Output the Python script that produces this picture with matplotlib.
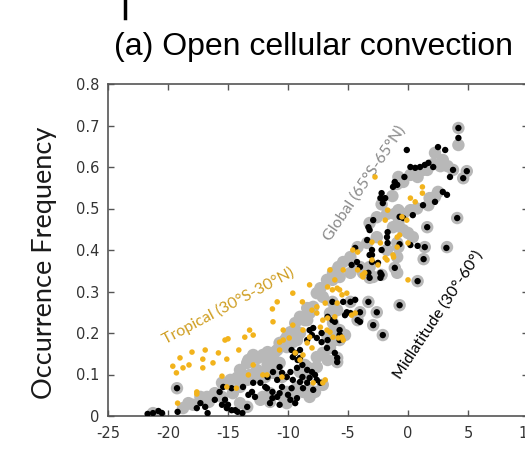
import numpy as np
import matplotlib.pyplot as plt
from matplotlib.lines import Line2D

# tropical (30S-30N) points
trop_x = [-8.2, -9.6, -10.9, -8.8, -11.3, -11.25, -13.6, -13.2, -12.9, -15.0, -15.25, -14.1,
          -10.4, -9.9, -10.7, -8.75, -10.7, -16.9, -18.0, -15.8, -19.0, -17.1, -15.1, -18.25,
          -16.25, -19.6, -18.75, -17.1, -19.3, -12.9, -12.1, -15.5, -13.3, -8.0, -8.75, -15.1,
          -17.6, -17.6, -19.2, -7.9, -14.3, -8.0, -7.6, -9.6, -10.4, -8.2, -7.3, -7.1, -6.75,
          -6.5, -6.25, -9.4, -9.0, -10.5, -6.9, -11.75, -6.1, -5.9, -5.9, -6.7, -6.3, -6.9,
          -7.6, -5.7, -6.1, -5.5, -5.1, -4.7, -4.4, -5.8, -5.5, -5.4, -3.75, -3.8, 0.0, -3.0,
          -2.5, -1.75, -1.25, -0.9, 0.0, -4.2, -2.75, 1.2, 1.2, 0.2, 0.6, -1.7, -0.5, -0.1,
          -1.9, -3.0, -0.9, -0.7, -1.2, -1.9, -2.3, -6.5, -5.4, -4.6, -4.2, -3.6, -8.4, -6.7,
          -7.1]
trop_y = [0.316, 0.296, 0.275, 0.275, 0.258, 0.227, 0.19, 0.207, 0.195, 0.186, 0.183, 0.159,
          0.207, 0.188, 0.178, 0.207, 0.159, 0.159, 0.154, 0.152, 0.14, 0.137, 0.137, 0.123,
          0.128, 0.12, 0.116, 0.116, 0.104, 0.123, 0.099, 0.096, 0.099, 0.164, 0.147, 0.07,
          0.058, 0.053, 0.031, 0.08, 0.067, 0.255, 0.248, 0.219, 0.183, 0.19, 0.214, 0.231, 0.207,
          0.202, 0.19, 0.152, 0.135, 0.094, 0.087, 0.099, 0.239, 0.272, 0.308, 0.311, 0.304, 0.272,
          0.263, 0.304, 0.328, 0.292, 0.296, 0.243, 0.248, 0.188, 0.19, 0.183, 0.335, 0.34, 0.328, 0.376,
          0.364, 0.376, 0.388, 0.407, 0.417, 0.352, 0.576, 0.552, 0.537, 0.525, 0.516, 0.496, 0.48, 0.472,
          0.472, 0.419, 0.431, 0.436, 0.383, 0.381, 0.417, 0.352, 0.352, 0.4, 0.395, 0.345, 0.176, 0.236,
          0.08]

# midlatitude (30-60) points
mid_x = [-21.7, -21.25, -20.8, -20.5, -19.25, -19.2, -17.6, -17.3, -16.9, -16.7, -16.1, -15.25,
         -15.0, -15.5, -15.1, -14.7, -14.4, -14.2, -13.8, -15.4, -15.7, -14.7, -13.75, -13.3,
         -13.0, -12.75, -12.9, -12.3, -11.9, -11.5, -11.3, -10.9, -10.7, -10.5, -10.7, -11.25,
         -10.5, -10.1, -9.8, -9.7, -9.4, -9.0, -9.6, -8.4, -8.2, -7.9, -9.6, -9.0, -8.75, -8.4,
         -7.9, -8.8, -11.7, -9.7, -13.4, -10.7, -10.0, -9.8, -9.4, -9.25, -7.6, -7.3, -8.2, -8.4,
         -8.0, -7.75, -9.25, -8.8, -9.2, -9.0, -10.9, -11.75, -11.3, -6.3, -6.7, -6.3, -7.2, -7.6,
         -7.2, -6.7, -8.0, -6.75, -5.9, -6.1, -5.9, -5.7, -5.7, -5.7, -6.1, -5.25, -5.1, -4.8,
         -5.4, -4.8, -4.2, -4.0, -4.4, -4.0, -3.3, -2.6, -2.9, -2.1, -3.2, -2.3, -2.2, -0.7, 0.8,
         -1.1, -4.0, -4.7, -4.25, -3.3, -2.3, -3.2, -4.4, -3.0, -2.5, 1.4, 3.2, 1.3, 0.8, 0.2,
         -0.7, -1.7, -2.2, -3.0, -3.0, 4.2, 4.2, -0.1, 2.5, 3.1, 0.2, 0.6, 1.0, 1.4, 1.7, 2.1,
         3.75, 4.9, 4.6, 3.5, -0.3, -1.1, -0.9, -1.25, -2.2, -2.3, -1.9, -2.1, 2.9, 3.25, 2.25,
         1.25, 0.4, -0.7, -0.4, -3.3, -3.2, -2.9, -1.7, -1.75, 4.1, 1.6, -3.4]
mid_y = [0.005, 0.007, 0.012, 0.007, 0.067, 0.01, 0.019, 0.031, 0.022, 0.007, 0.039, 0.039,
         0.027, 0.027, 0.019, 0.014, 0.014, 0.01, 0.007, 0.07, 0.058, 0.067, 0.07, 0.051,
         0.058, 0.046, 0.08, 0.08, 0.07, 0.031, 0.043, 0.046, 0.055, 0.07, 0.118, 0.106,
         0.104, 0.094, 0.106, 0.159, 0.152, 0.14, 0.142, 0.183, 0.207, 0.212, 0.087, 0.082, 0.067, 0.08,
         0.063, 0.094, 0.094, 0.067, 0.022, 0.027, 0.051, 0.039, 0.031, 0.043, 0.087, 0.08, 0.092, 0.111,
         0.106, 0.099, 0.116, 0.123, 0.135, 0.159, 0.087, 0.067, 0.058, 0.275, 0.239, 0.231, 0.2, 0.188,
         0.178, 0.183, 0.195, 0.164, 0.14, 0.152, 0.13, 0.207, 0.195, 0.183, 0.227, 0.243, 0.25, 0.275,
         0.275, 0.248, 0.231, 0.227, 0.28, 0.25, 0.275, 0.25, 0.219, 0.195, 0.333, 0.333, 0.34, 0.267, 0.325,
         0.357, 0.359, 0.364, 0.371, 0.345, 0.345, 0.388, 0.405, 0.371, 0.369, 0.407, 0.405, 0.378, 0.41, 0.412,
         0.414, 0.417, 0.4, 0.4, 0.388, 0.694, 0.67, 0.641, 0.648, 0.641, 0.6, 0.598, 0.6, 0.605, 0.61, 0.6,
         0.593, 0.59, 0.573, 0.576, 0.576, 0.564, 0.557, 0.552, 0.537, 0.525, 0.525, 0.513, 0.54, 0.533, 0.516,
         0.508, 0.484, 0.48, 0.477, 0.455, 0.448, 0.472, 0.443, 0.431, 0.477, 0.455, 0.424]

# global (65S-65N) points
glob_x = [-21.25, -20.7, -19.25, -18.3, -17.9, -18.75, -17.3, -16.75, -16.1, -16.6, -17.2, -15.5,
          -14.8, -14.25, -15.5, -14.0, -13.4, -12.6, -11.9, -13.3, -12.9, -12.6, -11.7, -11.25,
          -10.9, -10.25, -10.1, -11.25, -10.5, -9.25, -9.0, -8.4, -7.9, -7.6, -9.0, -8.4, -7.6,
          -9.6, -8.75, -8.2, -12.1, -11.5, -14.0, -13.4, -10.4, -10.1, -14.6, -7.3, -7.1, -8.4,
          -8.2, -8.6, -9.0, -9.4, -9.8, -10.7, -11.1, -11.7, -12.1, -12.5, -13.0, -13.4, -14.0,
          -13.2, -13.6, -10.1, -9.6, -11.25, -10.7, -11.75, -8.6, -8.6, -7.6, -7.1, -6.5, -6.7,
          -8.2, -7.75, -7.1, -10.1, -9.25, -12.3, -11.5, -6.25, -6.1, -6.7, -5.9, -6.3, -6.3,
          -5.7, -4.8, -3.75, -2.9, -0.9, -6.5, -6.1, -5.7, -5.25, 0.8, -0.7, -2.2, -3.2, -3.3,
          -2.6, -4.0, -2.9, -2.1, -4.8, -5.7, -5.9, -5.9, -4.2, -2.2, -1.75, -1.3, -0.9, -3.2,
          -2.6, -2.6, -3.4, -4.2, -4.8, -5.4, -5.8, -6.25, -6.75, -1.75, -0.9, -4.0, -3.2, -1.1,
          -0.8, 4.2, 4.2, 2.25, 2.9, 2.1, 3.3, 2.7, 0.2, 0.75, 1.25, -0.8, -0.4, 3.75, 4.9, 4.6,
          2.5, 2.25, 1.8, 1.7, 0.75, 0.2, -0.4, 4.1, 1.6, -0.8, -1.25, -0.4, 0.0, 0.4, 1.4, 1.3,
          3.25, -0.8, -0.9, -1.1, 0.8, 1.6]
glob_y = [0.007, 0.002, 0.067, 0.031, 0.027, 0.019, 0.046, 0.046, 0.055, 0.034, 0.039, 0.08,
          0.087, 0.092, 0.046, 0.07, 0.087, 0.094, 0.094, 0.135, 0.147, 0.111, 0.123, 0.142,
          0.159, 0.183, 0.19, 0.104, 0.094, 0.183, 0.2, 0.231, 0.263, 0.296, 0.106, 0.118, 0.118,
          0.055, 0.058, 0.046, 0.046, 0.055, 0.031, 0.022, 0.046, 0.031, 0.055, 0.308, 0.287, 0.26,
          0.248, 0.231, 0.239, 0.224, 0.202, 0.176, 0.154, 0.154, 0.147, 0.14, 0.14, 0.128, 0.111,
          0.099, 0.087, 0.166, 0.178, 0.118, 0.128, 0.111, 0.094, 0.123, 0.142, 0.152, 0.164, 0.135,
          0.063, 0.058, 0.075, 0.058, 0.07, 0.039, 0.034, 0.224, 0.183, 0.19, 0.255, 0.275, 0.328,
          0.335, 0.345, 0.345, 0.335, 0.345, 0.248, 0.212, 0.183, 0.195, 0.325, 0.267, 0.34, 0.333, 0.275,
          0.25, 0.25, 0.219, 0.195, 0.275, 0.207, 0.14, 0.13, 0.231, 0.51, 0.487, 0.53, 0.559, 0.465,
          0.479, 0.431, 0.417, 0.407, 0.383, 0.371, 0.359, 0.345, 0.328, 0.4, 0.417, 0.359, 0.359, 0.487,
          0.496, 0.653, 0.694, 0.634, 0.617, 0.607, 0.602, 0.602, 0.581, 0.588, 0.593, 0.576, 0.564, 0.593, 0.59, 0.573,
          0.54, 0.528, 0.525, 0.508, 0.5, 0.496, 0.487, 0.477, 0.455, 0.465, 0.455, 0.448, 0.441, 0.431, 0.407, 0.378,
          0.407, 0.407, 0.383, 0.357, 0.576, 0.593]

xticks = [-25, -20, -15, -10, -5, 0, 5, 10]
xtick_labels = ['-25', '-20', '-15', '-10', '-5', '0', '5', '10']
yticks = [0, 0.1, 0.2, 0.3, 0.4, 0.5, 0.6, 0.7, 0.8]
ytick_labels = ['0', '0.1', '0.2', '0.3', '0.4', '0.5', '0.6', '0.7', '0.8']

fig = plt.figure(figsize=(5.25, 4.5), dpi=100)
ax = fig.add_axes([108/525, 34/450, 420/525, 332/450])

ax.scatter(glob_x, glob_y, s=80, color='#b8b8b8', edgecolors='none', zorder=2)
ax.scatter(mid_x, mid_y, s=21, color='black', edgecolors='none', zorder=3)
ax.scatter(trop_x, trop_y, s=16, color='#f2b31c', edgecolors='none', zorder=4)

ax.set_xlim(-25, 10)
ax.set_ylim(0, 0.8)
ax.set_xticks(xticks)
ax.set_xticklabels(xtick_labels)
ax.set_yticks(yticks)
ax.set_yticklabels(ytick_labels)
ax.tick_params(direction='in', top=True, right=True, length=4, width=1,
               color='#555555', labelcolor='#333333', labelsize=10.5)
ax.tick_params(axis='x', pad=7)
ax.tick_params(axis='y', pad=6)
for sp in ax.spines.values():
    sp.set_color('#555555')
    sp.set_linewidth(1.2)

lato = ['Lato', 'DejaVu Sans']
ax.text(-3.6, 0.561, 'Global (65°S-65°N)', rotation=56, color='#8a8a8a',
        fontsize=11.5, family=lato, ha='center', va='center', rotation_mode='anchor')
ax.text(-15.0, 0.265, 'Tropical (30°S-30°N)', rotation=28, color='#cf9e22',
        fontsize=11.5, family=lato, ha='center', va='center', rotation_mode='anchor')
ax.text(2.5, 0.243, 'Midlatitude (30°-60°)', rotation=56.5, color='black',
        fontsize=11.5, family=lato, ha='center', va='center', rotation_mode='anchor')

fig.text(313/525, 1 - 47/450, '(a) Open cellular convection', ha='center', va='center',
         fontsize=23, family='Liberation Sans')
fig.text(45/525, 1 - 263/450, 'Occurrence Frequency', rotation=90, ha='center', va='center',
         fontsize=19.5, family=lato, color='#1a1a1a')
# cropped mark at the top edge
fig.add_artist(Line2D([125/525, 125/525], [1.0, 1 - 18/450], transform=fig.transFigure,
                      color='black', linewidth=2.5))

fig.savefig('out.png', dpi=100)
